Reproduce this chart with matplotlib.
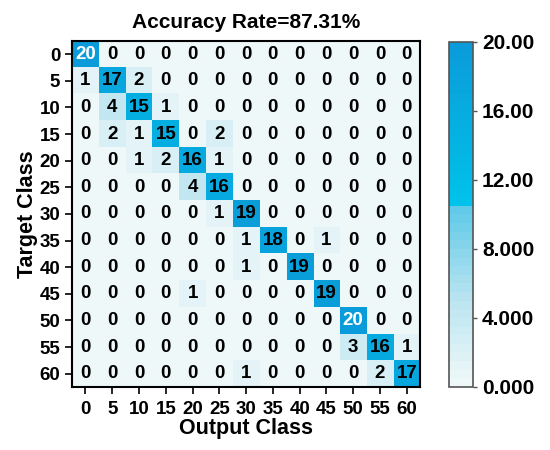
import matplotlib
matplotlib.use('Agg')
import matplotlib.pyplot as plt
from matplotlib.colors import LinearSegmentedColormap
import numpy as np

plt.rcParams['font.family'] = ['Liberation Sans', 'DejaVu Sans']
plt.rcParams['font.weight'] = 'bold'

classes = ['0', '5', '10', '15', '20', '25', '30', '35', '40', '45', '50', '55', '60']
conf = np.array([
	[20, 0, 0, 0, 0, 0, 0, 0, 0, 0, 0, 0, 0],
	[1, 17, 2, 0, 0, 0, 0, 0, 0, 0, 0, 0, 0],
	[0, 4, 15, 1, 0, 0, 0, 0, 0, 0, 0, 0, 0],
	[0, 2, 1, 15, 0, 2, 0, 0, 0, 0, 0, 0, 0],
	[0, 0, 1, 2, 16, 1, 0, 0, 0, 0, 0, 0, 0],
	[0, 0, 0, 0, 4, 16, 0, 0, 0, 0, 0, 0, 0],
	[0, 0, 0, 0, 0, 1, 19, 0, 0, 0, 0, 0, 0],
	[0, 0, 0, 0, 0, 0, 1, 18, 0, 1, 0, 0, 0],
	[0, 0, 0, 0, 0, 0, 1, 0, 19, 0, 0, 0, 0],
	[0, 0, 0, 0, 1, 0, 0, 0, 0, 19, 0, 0, 0],
	[0, 0, 0, 0, 0, 0, 0, 0, 0, 0, 20, 0, 0],
	[0, 0, 0, 0, 0, 0, 0, 0, 0, 0, 3, 16, 1],
	[0, 0, 0, 0, 0, 0, 1, 0, 0, 0, 0, 2, 17],
])
cbar_ticks = [0, 4, 8, 12, 16, 20]
cbar_labels = ['0.000', '4.000', '8.000', '12.00', '16.00', '20.00']

acc = np.trace(conf) / conf.sum() * 100

# stepped white -> cyan -> blue map like the original
cmap = LinearSegmentedColormap.from_list('cm', [
	(0.0, '#eff8f9'), (0.25, '#b9e4f0'), (0.52, '#5ec9e8'),
	(0.525, '#00c3ea'), (1.0, '#0a9cda')], N=40)

fig = plt.figure(figsize=(5.5, 4.5), dpi=100)
ax = fig.add_axes([0.131, 0.14, 0.633, 0.769])
cax = fig.add_axes([0.816, 0.14, 0.044, 0.767])

im = ax.imshow(conf, cmap=cmap, vmin=0, vmax=20, aspect='auto')

for i in range(conf.shape[0]):
	for j in range(conf.shape[1]):
		v = conf[i, j]
		col = 'white' if v == 20 else 'black'
		ax.text(j, i, str(v), ha='center', va='center', fontsize=13.5,
				fontweight='bold', color=col)

ax.set_xticks(range(len(classes)))
ax.set_yticks(range(len(classes)))
ax.set_xticklabels(classes, fontsize=13.5, fontweight='bold')
ax.set_yticklabels(classes, fontsize=13.5, fontweight='bold')
ax.tick_params(direction='out', length=5, width=1.2)
ax.tick_params(axis='x', pad=5)
for s in ax.spines.values():
	s.set_linewidth(1.5)
ax.set_xlabel('Output Class', fontsize=15.5, fontweight='bold', labelpad=0)
ax.set_ylabel('Target Class', fontsize=15.5, fontweight='bold', labelpad=1)
ax.set_title('Accuracy Rate=%.2f%%' % acc, fontsize=15, fontweight='bold', pad=9)

cb = fig.colorbar(im, cax=cax)
cb.set_ticks(cbar_ticks)
cb.set_ticklabels(cbar_labels)
cb.ax.tick_params(labelsize=15, length=3, width=1, color='#555555')
for t in cb.ax.get_yticklabels():
	t.set_fontweight('bold')
cb.outline.set_edgecolor('#555555')
cb.outline.set_linewidth(1.2)

fig.savefig('out.png', dpi=100)
